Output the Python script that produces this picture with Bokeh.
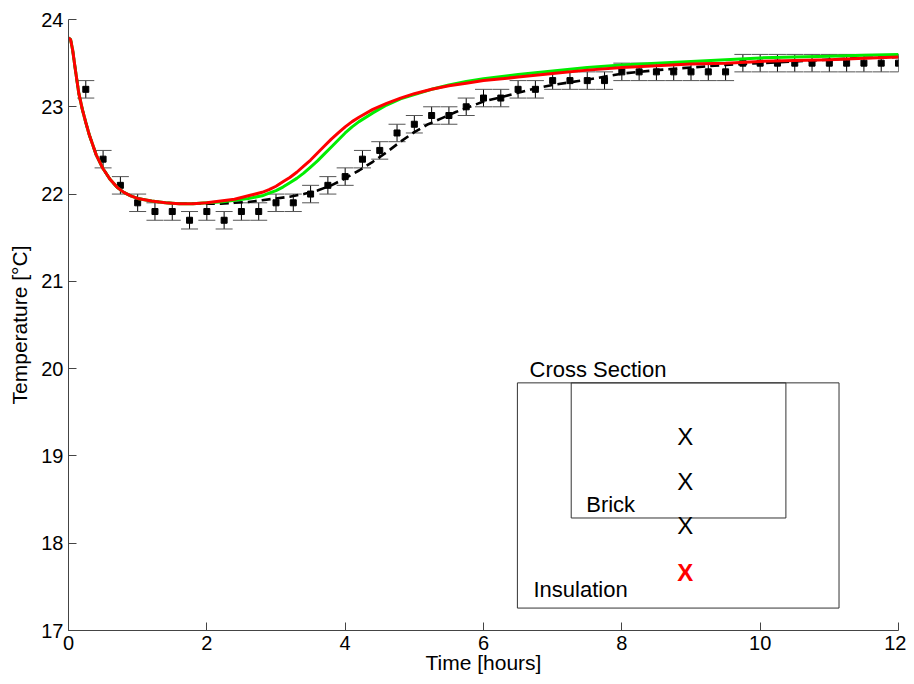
from bokeh.plotting import figure
from bokeh.models import ColumnDataSource, Whisker, TeeHead, Range1d, FixedTicker
from bokeh.core.properties import value
from bokeh.embed import file_html
from bokeh.resources import INLINE

# Measured data (hours, deg C) with +-0.1 error
meas_t = [0.25, 0.5, 0.75, 1.0, 1.25, 1.5, 1.75, 2.0, 2.25, 2.5, 2.75, 3.0,
          3.25, 3.5, 3.75, 4.0, 4.25, 4.5, 4.75, 5.0, 5.25, 5.5, 5.75, 6.0,
          6.25, 6.5, 6.75, 7.0, 7.25, 7.5, 7.75, 8.0, 8.25, 8.5, 8.75, 9.0,
          9.25, 9.5, 9.75, 10.0, 10.25, 10.5, 10.75, 11.0, 11.25, 11.5, 11.75, 12.0]
meas_T = [23.2, 22.4, 22.1, 21.9, 21.8, 21.8, 21.7, 21.8, 21.7, 21.8, 21.8, 21.9,
          21.9, 22.0, 22.1, 22.2, 22.4, 22.5, 22.7, 22.8, 22.9, 22.9, 23.0, 23.1,
          23.1, 23.2, 23.2, 23.3, 23.3, 23.3, 23.3, 23.4, 23.4, 23.4, 23.4, 23.4,
          23.4, 23.4, 23.5, 23.5, 23.5, 23.5, 23.5, 23.5, 23.5, 23.5, 23.5, 23.5]
meas_err = [0.1] * len(meas_t)

# Red model curve
red_t = [0.0, 0.03, 0.06, 0.1, 0.15, 0.2, 0.25, 0.3, 0.4, 0.5, 0.6, 0.7, 0.8, 0.9,
         1.0, 1.2, 1.4, 1.6, 1.8, 2.0, 2.2, 2.4, 2.6, 2.8, 2.9, 3.0, 3.1, 3.2, 3.3,
         3.4, 3.5, 3.6, 3.7, 3.8, 3.9, 4.0, 4.1, 4.2, 4.4, 4.6, 4.8, 5.0, 5.25,
         5.5, 5.75, 6.0, 6.5, 7.0, 7.5, 8.0, 8.5, 9.0, 9.5, 10.0, 10.5, 11.0, 11.5, 12.0]
red_T = [23.79, 23.77, 23.65, 23.42, 23.15, 22.97, 22.82, 22.68, 22.45, 22.29, 22.17,
         22.08, 22.02, 21.98, 21.95, 21.92, 21.9, 21.89, 21.89, 21.9, 21.92, 21.94,
         21.98, 22.02, 22.05, 22.09, 22.14, 22.19, 22.25, 22.32, 22.39, 22.47, 22.55,
         22.63, 22.7, 22.77, 22.83, 22.88, 22.97, 23.04, 23.1, 23.15, 23.2, 23.24,
         23.27, 23.3, 23.34, 23.38, 23.42, 23.45, 23.47, 23.49, 23.5, 23.52, 23.53,
         23.54, 23.555, 23.57]

# Green model curve
green_t = [0.0, 0.03, 0.06, 0.1, 0.15, 0.2, 0.25, 0.3, 0.4, 0.5, 0.6, 0.7, 0.8, 0.9,
           1.0, 1.2, 1.4, 1.6, 1.8, 2.0, 2.2, 2.4, 2.6, 2.8, 2.9, 3.0, 3.1, 3.2, 3.3,
           3.4, 3.5, 3.6, 3.7, 3.8, 3.9, 4.0, 4.1, 4.2, 4.4, 4.6, 4.8, 5.0, 5.25,
           5.5, 5.75, 6.0, 6.5, 7.0, 7.5, 8.0, 8.5, 9.0, 9.5, 10.0, 10.5, 11.0, 11.5, 12.0]
green_T = [23.79, 23.77, 23.65, 23.42, 23.15, 22.97, 22.82, 22.68, 22.45, 22.29, 22.17,
           22.08, 22.02, 21.98, 21.95, 21.92, 21.9, 21.89, 21.89, 21.9, 21.91, 21.93,
           21.95, 21.98, 22.01, 22.04, 22.08, 22.13, 22.18, 22.24, 22.31, 22.38, 22.46,
           22.54, 22.62, 22.7, 22.77, 22.83, 22.93, 23.02, 23.09, 23.14, 23.2, 23.25,
           23.29, 23.32, 23.37, 23.41, 23.45, 23.48, 23.5, 23.52, 23.54, 23.56, 23.57,
           23.58, 23.59, 23.6]

# Black dashed curve
dash_t = [0.0, 0.03, 0.06, 0.1, 0.15, 0.2, 0.25, 0.3, 0.4, 0.5, 0.6, 0.7, 0.8, 0.9,
          1.0, 1.2, 1.4, 1.6, 1.8, 2.0, 2.2, 2.4, 2.6, 2.8, 3.0, 3.2, 3.4, 3.6,
          3.8, 4.0, 4.2, 4.4, 4.6, 4.8, 5.0, 5.2, 5.4, 5.6, 5.8, 6.0, 6.25, 6.5,
          6.75, 7.0, 7.5, 8.0, 8.5, 9.0, 9.5, 10.0, 10.5, 11.0, 11.5, 12.0]
dash_T = [23.79, 23.77, 23.65, 23.42, 23.15, 22.97, 22.82, 22.68, 22.45, 22.29, 22.17,
          22.08, 22.02, 21.98, 21.95, 21.92, 21.9, 21.89, 21.89, 21.89, 21.89, 21.9,
          21.91, 21.93, 21.95, 21.97, 22.0, 22.04, 22.1, 22.18, 22.27, 22.37, 22.48,
          22.6, 22.71, 22.8, 22.87, 22.94, 23.0, 23.06, 23.11, 23.16, 23.21, 23.25,
          23.31, 23.38, 23.42, 23.45, 23.48, 23.5, 23.52, 23.54, 23.56, 23.57]

x_ticks = [0, 2, 4, 6, 8, 10, 12]
y_ticks = [17, 18, 19, 20, 21, 22, 23, 24]

FONT = "Liberation Sans"
AX = "#444444"

p = figure(width=906, height=676, output_backend="svg", toolbar_location=None,
           x_range=Range1d(0, 12), y_range=Range1d(17, 24),
           min_border_left=68, min_border_right=8, min_border_top=19, min_border_bottom=46)
p.outline_line_color = None
p.grid.visible = False
p.background_fill_color = "white"

for ax in (p.xaxis[0], p.yaxis[0]):
    ax.axis_line_color = AX
    ax.major_tick_line_color = AX
    ax.major_tick_in = 8
    ax.major_tick_out = 0
    ax.minor_tick_line_color = None
    ax.major_label_text_font = FONT
    ax.major_label_text_font_size = "20px"
    ax.major_label_text_color = "black"
    ax.axis_label_text_font = FONT
    ax.axis_label_text_font_size = "21px"
    ax.axis_label_text_font_style = "normal"
    ax.axis_label_text_color = "black"

p.xaxis.ticker = FixedTicker(ticks=x_ticks)
p.yaxis.ticker = FixedTicker(ticks=y_ticks)
p.xaxis.axis_label = "Time [hours]"
p.yaxis.axis_label = "Temperature [°C]"
p.xaxis.major_label_standoff = 5
p.yaxis.major_label_standoff = 5
p.xaxis.axis_label_standoff = -2
p.yaxis.axis_label_standoff = 7

# measured data with error bars
src = ColumnDataSource(dict(t=meas_t, T=meas_T,
                            lo=[a - e for a, e in zip(meas_T, meas_err)],
                            hi=[a + e for a, e in zip(meas_T, meas_err)]))
wh = Whisker(base="t", lower="lo", upper="hi", source=src, line_color="black", line_width=1,
             upper_head=TeeHead(size=17, line_color="#555555", line_width=1),
             lower_head=TeeHead(size=17, line_color="#555555", line_width=1))
p.add_layout(wh)
p.scatter("t", "T", source=src, marker="square", size=6, fill_color="black", line_color="black")

# model curves
p.line(dash_t, dash_T, line_color="black", line_width=2.6, line_dash="9 5")
p.line(green_t, green_T, line_color="#00ee00", line_width=3)
p.line(red_t, red_T, line_color="#ff0000", line_width=3)

# cross-section inset
p.quad(left=[6.49], right=[11.14], bottom=[17.257], top=[19.837],
       fill_color=None, line_color="#333333", line_width=1)
p.quad(left=[7.268], right=[10.372], bottom=[18.289], top=[19.837],
       fill_color=None, line_color="#333333", line_width=1)
p.text(x=[6.665], y=[19.99], text=["Cross Section"], text_font=value(FONT),
       text_font_size="22px", text_color="black", text_align="left", text_baseline="alphabetic")
p.text(x=[7.485], y=[18.44], text=["Brick"], text_font=value(FONT),
       text_font_size="22px", text_color="black", text_align="left", text_baseline="alphabetic")
p.text(x=[6.723], y=[17.475], text=["Insulation"], text_font=value(FONT),
       text_font_size="22px", text_color="black", text_align="left", text_baseline="alphabetic")
p.text(x=[8.916, 8.916, 8.916], y=[19.22, 18.71, 18.20], text=["X", "X", "X"],
       text_font=value(FONT), text_font_size="24px", text_color="black",
       text_align="center", text_baseline="middle")
p.text(x=[8.916], y=[17.665], text=["X"], text_font=value(FONT), text_font_size="24px",
       text_font_style="bold", text_color="#ff0000", text_align="center", text_baseline="middle")

open("out.html", "w").write(file_html(p, INLINE))
